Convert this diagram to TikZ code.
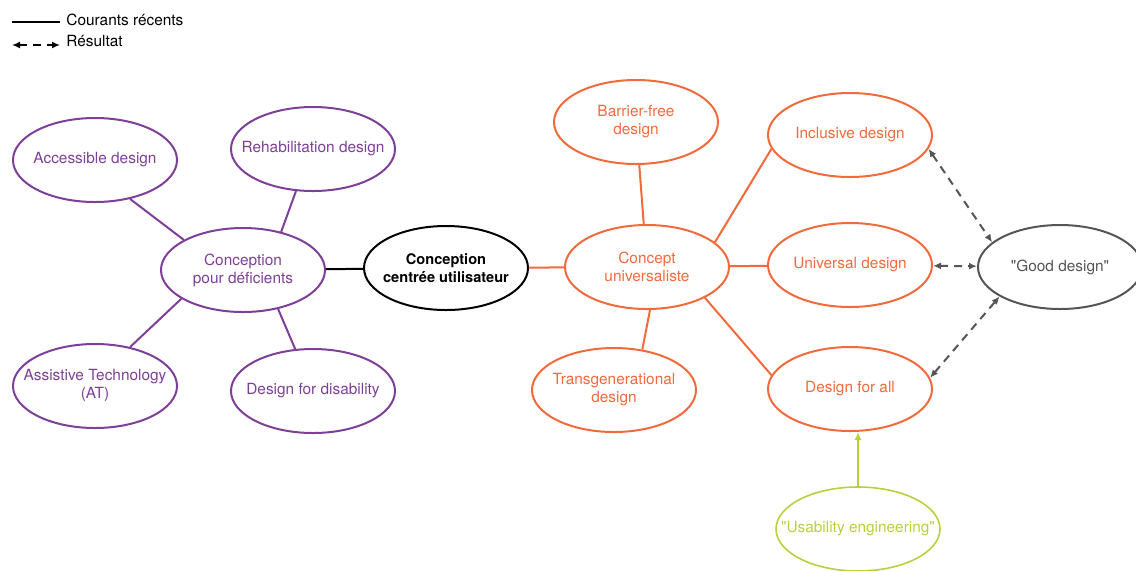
\documentclass[tikz,border=0pt]{standalone}
\usepackage{fontspec}
\setmainfont{TeX Gyre Heros}[Ligatures=TeXOff]
\usetikzlibrary{shapes.geometric,arrows.meta}
\definecolor{defpurple}{HTML}{7E3F98}
\definecolor{univorange}{HTML}{F26A3B}
\definecolor{usagreen}{HTML}{BACF3C}
\definecolor{resgray}{HTML}{555555}

\begin{document}
\begin{tikzpicture}[x=0.5pt,y=-0.5pt,
 bubble/.style={ellipse, draw, line width=1pt, minimum width=82pt, minimum height=42pt,
   inner xsep=-12pt, inner ysep=0pt, align=center, font=\fontsize{7.7}{9}\selectfont},
 defbubble/.style={bubble, draw=defpurple, text=defpurple},
 univbubble/.style={bubble, draw=univorange, text=univorange},
 link/.style={line width=1pt},
 result/.style={{Latex[length=4pt,width=3.5pt]}-{Latex[length=4pt,width=3.5pt]}, resgray,
   line width=1pt, dash pattern=on 4pt off 3pt},
 legendtext/.style={anchor=west, inner sep=0pt, font=\fontsize{7.7}{9}\selectfont}]

 \useasboundingbox (0,0) rectangle (1136,570);

 % legend
 \coordinate (cur1) at (12,22);
 \coordinate (cur2) at (60,22);
 \draw[line width=0.7pt] (cur1) -- (cur2);
 \node[legendtext] (curtxt) at (66,20) {Courants récents};
 \coordinate (res1) at (12,45);
 \coordinate (res2) at (60,45);
 \draw[result, black] (res1) -- (res2);
 \node[legendtext] (restxt) at (66,41) {Résultat};

 % left cluster
 \node[defbubble] (defic) at (243,270) {Conception\\pour déficients};
 \node[defbubble] (acc) at (95,160) {Accessible design};
 \node[defbubble] (rehab) at (313,149) {Rehabilitation design};
 \node[defbubble] (at) at (95,386) {Assistive Technology\\(AT)};
 \node[defbubble] (disab) at (313,391) {Design for disability};

 \draw[link, defpurple] (acc.-48) -- (defic.153);
 \draw[link, defpurple] (rehab.-112) -- (defic.45);
 \draw[link, defpurple] (at.48) -- (defic.-155);
 \draw[link, defpurple] (disab.113) -- (defic.-48);

 % centre
 \node[bubble, font=\fontsize{7.3}{9}\selectfont\bfseries] (ucd) at (446,268) {Conception\\centrée utilisateur};
 \draw[link] (defic) -- (ucd);

 % right cluster
 \node[univbubble] (univ) at (647,267) {Concept\\universaliste};
 \node[univbubble] (barrier) at (636,122) {Barrier-free\\design};
 \node[univbubble] (transgen) at (614,390) {Transgenerational\\design};
 \node[univbubble] (incl) at (850,135) {Inclusive design};
 \node[univbubble] (universal) at (850,265) {Universal design};
 \node[univbubble] (dfa) at (850,389) {Design for all};

 \draw[link, univorange] (ucd) -- (univ);
 \draw[link, univorange] (barrier) -- (univ);
 \draw[link, univorange] (transgen.55) -- (univ.-86);
 \draw[link, univorange] (univ.20) -- (incl.190);
 \draw[link, univorange] (univ) -- (universal);
 \draw[link, univorange] (univ.-28) -- (dfa.170);

 % results
 \node[bubble, draw=resgray, text=resgray] (good) at (1060,267) {"Good design"};
 \draw[result] (incl.-10) -- (good.160);
 \draw[result] (universal) -- (good);
 \draw[result] (dfa.8) -- (good.206);

 \node[bubble, draw=usagreen, text=usagreen, line width=0.8pt] (usab) at (858,529) {"Usability engineering"};
 \draw[link, usagreen, -{Latex[length=4pt,width=3.5pt]}] (usab.north) -- (usab.north |- dfa.south);

\end{tikzpicture}
\end{document}
